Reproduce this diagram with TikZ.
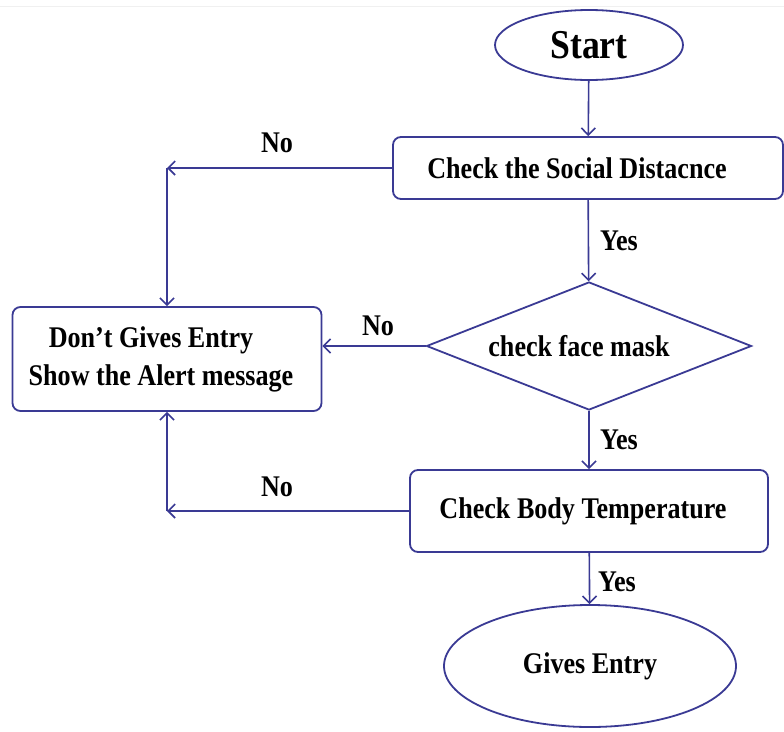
\documentclass[tikz,border=0pt]{standalone}
\usepackage{fontspec}
\setmainfont{Liberation Serif}[FakeStretch=0.87]
\usetikzlibrary{shapes.geometric,arrows.meta}
\definecolor{flowblue}{RGB}{58,58,148}
\tikzset{
  box/.style={draw=flowblue,line width=1.8pt,rounded corners=8pt,fill=white,inner sep=0pt,
    font=\fontsize{30}{38}\selectfont\bfseries,align=center},
  term/.style={draw=flowblue,line width=1.8pt,ellipse,inner sep=0pt,
    font=\fontsize{30}{38}\selectfont\bfseries},
  decide/.style={draw=flowblue,line width=1.8pt,diamond,shape aspect=2.54,inner sep=0pt,
    font=\fontsize{30}{38}\selectfont\bfseries},
  arr/.style={draw=flowblue,line width=1.6pt,-{Straight Barb[length=7pt,width=14pt,line width=1.6pt]}},
  lbl/.style={font=\fontsize{30}{34}\selectfont\bfseries,inner sep=0pt}
}
\begin{document}
\begin{tikzpicture}[x=1pt,y=-1pt]
\useasboundingbox (0,0) rectangle (784,731);
\draw[gray!12,line width=1pt] (0,6) -- (784,6);
\node[term,minimum width=188pt,minimum height=70pt,font=\fontsize{41}{46}\selectfont\bfseries] (start) at (589,45) {Start};
\node[box,minimum width=390pt,minimum height=62pt] (social) at (588,168) {Check the Social Distacnce\hspace*{22pt}};
\node[decide,minimum width=325pt,minimum height=128pt] (mask) at (589,346) {check face mask\hspace*{20pt}};
\node[box,minimum width=358pt,minimum height=82pt] (temp) at (589,511) {Check Body Temperature\hspace*{12pt}};
\node[box,minimum width=309pt,minimum height=104pt] (deny) at (167,359) {Don’t Gives Entry\hspace*{32pt}\\Show the Alert message\hspace*{12pt}};
\node[term,minimum width=292pt,minimum height=122pt] (entry) at (590,666) {Gives Entry};
\coordinate (c1) at (167,168);
\coordinate (c2) at (167,511);
\draw[arr] (start) -- (social);
\draw[arr] (social) -- (mask);
\draw[arr] (mask) -- (temp);
\draw[arr] (temp) -- (entry);
\draw[arr] (social.west) -- (c1);
\draw[arr] (c1) -- (deny.north);
\draw[arr] (mask.west) -- (mask.west -| deny.east);
\draw[arr] (temp.west) -- (c2);
\draw[arr] (c2) -- (deny.south);
\node[lbl] (no1) at (277,143) {No};
\node[lbl] (no2) at (378,326) {No};
\node[lbl] (no3) at (277,487) {No};
\node[lbl] (yes1) at (619,241) {Yes};
\node[lbl] (yes2) at (619,440) {Yes};
\node[lbl] (yes3) at (617,582) {Yes};
\end{tikzpicture}
\end{document}
